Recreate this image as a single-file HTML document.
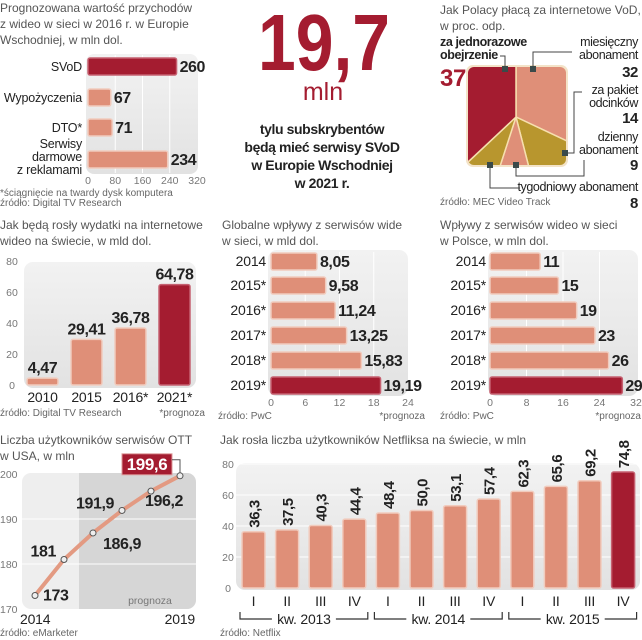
<!DOCTYPE html>
<html><head><meta charset="utf-8">
<style>
body{margin:0;background:#fff;width:642px;height:640px;overflow:hidden}
svg{display:block}
.t{font-family:"Liberation Sans",sans-serif;font-size:12px;fill:#555}
.s{font-family:"Liberation Sans",sans-serif;font-size:10px;fill:#666}
.b{font-family:"Liberation Sans",sans-serif;font-weight:bold;fill:#222;letter-spacing:-0.4px}
.l{font-family:"Liberation Sans",sans-serif;fill:#222;letter-spacing:-0.2px}
.k{font-family:"Liberation Sans",sans-serif;font-size:10.5px;fill:#777}
</style></head><body>
<svg id="root" width="642" height="640" viewBox="0 0 642 640">
<defs>
<linearGradient id="pg" x1="0" y1="0" x2="0" y2="1"><stop offset="0" stop-color="#f2f2f2"/><stop offset="1" stop-color="#e2e2e2"/></linearGradient>
<clipPath id="pieclip"><rect x="468" y="67" width="98" height="98" rx="6"/></clipPath>
</defs>

<g>
<text class="t" x="0" y="12">Prognozowana wartość przychodów</text>
<text class="t" x="0" y="28">z wideo w sieci w 2016 r.  w Europie</text>
<text class="t" x="0" y="44">Wschodniej, w mln dol.</text>
<rect x="86" y="54" width="112" height="120" rx="8" fill="url(#pg)"/>
<g id="p1"></g>
<text class="s" x="0" y="196">*ściągnięcie na twardy dysk komputera</text>
<text class="s" x="0" y="206">źródło: Digital TV Research</text>
</g>

<g>
<text x="258" y="70" textLength="132" lengthAdjust="spacingAndGlyphs" font-family="Liberation Sans,sans-serif" font-weight="bold" font-size="80" fill="#a41c30">19,7</text>
<text x="323" y="100" text-anchor="middle" font-family="Liberation Sans,sans-serif" font-size="25" fill="#a41c30">mln</text>
<g class="b" font-size="14" text-anchor="middle">
<text x="322" y="134">tylu subskrybentów</text>
<text x="322" y="152">będą mieć serwisy SVoD</text>
<text x="322" y="170">w Europie Wschodniej</text>
<text x="322" y="188">w 2021 r.</text>
</g>
</g>

<g>
<text class="t" x="440" y="14" font-size="11.5">Jak Polacy płacą za internetowe VoD,</text>
<text class="t" x="440" y="30" font-size="11.5">w proc. odp.</text>
<rect x="466" y="65" width="102" height="102" rx="7" fill="#f3e3c8"/>
<g id="pie" clip-path="url(#pieclip)"></g>
<g class="b" font-size="12.5">
<text x="440" y="46">za jednorazowe</text>
<text x="440" y="59">obejrzenie</text>
<text x="440" y="86" font-size="24" fill="#a41c30" style="fill:#a41c30">37</text>
<g text-anchor="end" font-weight="normal">
<text x="638" y="46">miesięczny</text><text x="638" y="59">abonament</text>
<text x="638" y="94">za pakiet</text><text x="638" y="107">odcinków</text>
<text x="638" y="141">dzienny</text><text x="638" y="154">abonament</text>
<text x="638" y="191">tygodniowy abonament</text>
</g>
<g text-anchor="end" font-size="15"><text x="638" y="77">32</text><text x="638" y="123">14</text><text x="638" y="170">9</text><text x="638" y="208">8</text></g>
</g>
<g fill="none" stroke="#444" stroke-width="1">
<polyline points="500,56 505,56 505,69"/><polyline points="533,69 533,52 572,52"/>
<polyline points="565,153 574,153 574,92 582,92"/><polyline points="516,165 516,176 584,176 584,160"/>
<polyline points="490,165 490,188 520,188"/>
</g>
<g fill="#3a4a4a">
<rect x="502" y="66" width="6" height="6"/><rect x="530" y="66" width="6" height="6"/>
<rect x="562" y="150" width="6" height="6"/><rect x="513" y="162" width="6" height="6"/><rect x="487" y="162" width="6" height="6"/>
</g>
<text class="s" x="440" y="205">źródło: MEC Video Track</text>
</g>

<g>
<text class="t" x="0" y="229">Jak będą rosły wydatki na internetowe</text>
<text class="t" x="0" y="245">wideo na świecie, w mld dol.</text>
<rect x="24" y="262" width="172" height="126" rx="9" fill="url(#pg)"/>
<g id="p2"></g>
<text class="s" x="0" y="416">źródło: Digital TV Research</text>
<text class="s" x="205" y="416" text-anchor="end">*prognoza</text>
</g>

<g>
<text class="t" x="222" y="229">Globalne wpływy z serwisów wide</text>
<text class="t" x="222" y="245">w sieci, w mld dol.</text>
<rect x="268" y="250" width="140" height="146" rx="9" fill="url(#pg)"/>
<g id="p3"></g>
<text class="s" x="218" y="419">źródło: PwC</text>
<text class="s" x="425" y="419" text-anchor="end">*prognoza</text>
</g>

<g>
<text class="t" x="440" y="229">Wpływy z serwisów wideo w sieci</text>
<text class="t" x="440" y="245">w Polsce, w mln dol.</text>
<rect x="488" y="250" width="150" height="146" rx="9" fill="url(#pg)"/>
<g id="p4"></g>
<text class="s" x="440" y="419">źródło: PwC</text>
<text class="s" x="641" y="419" text-anchor="end">*prognoza</text>
</g>

<g>
<text class="t" x="0" y="444">Liczba użytkowników serwisów OTT</text>
<text class="t" x="0" y="460">w USA, w mln</text>
<rect x="22" y="473" width="174" height="136" rx="9" fill="#eeeeee"/>
<path d="M79 473 H187 A9 9 0 0 1 196 482 V600 A9 9 0 0 1 187 609 H79 Z" fill="#d6d6d6"/>
<text class="k" x="150" y="604" text-anchor="middle" font-size="12">prognoza</text>
<g id="p5"></g>
<text class="s" x="0" y="636">źródło: eMarketer</text>
</g>

<g>
<text class="t" x="220" y="444">Jak rosła liczba użytkowników Netfliksa na świecie, w mln</text>
<rect x="236" y="463" width="404" height="127" rx="9" fill="url(#pg)"/>
<g id="p6"></g>
<text class="s" x="220" y="636">źródło: Netflix</text>
</g>
</svg>

<script>
const NS="http://www.w3.org/2000/svg";
const DARK="#a41c30",SAL="#df8f78",GOLD="#b8962e",EDGE="#f1cbbd";

const p1Cats=["SVoD","Wypożyczenia","DTO*","Serwisy|darmowe|z reklamami"];
const p1Vals=[260,67,71,234];
const p1Ticks=[0,80,160,240,320];

const pieCats=["miesięczny abonament","za pakiet odcinków","dzienny abonament","tygodniowy abonament","za jednorazowe obejrzenie"];
const pieVals=[32,14,9,8,37];

const p2Cats=["2010","2015","2016*","2021*"];
const p2Vals=[4.47,29.41,36.78,64.78];
const p2Labels=["4,47","29,41","36,78","64,78"];
const p2Ticks=[0,20,40,60,80];

const p3Cats=["2014","2015*","2016*","2017*","2018*","2019*"];
const p3Vals=[8.05,9.58,11.24,13.25,15.83,19.19];
const p3Labels=["8,05","9,58","11,24","13,25","15,83","19,19"];
const p3Ticks=[0,6,12,18,24];

const p4Cats=["2014","2015*","2016*","2017*","2018*","2019*"];
const p4Vals=[11,15,19,23,26,29];
const p4Ticks=[0,8,16,24,32];

const p5Years=[2014,2015,2016,2017,2018,2019];
const p5Vals=[173,181,186.9,191.9,196.2,199.6];
const p5Labels=["173","181","186,9","191,9","196,2","199,6"];
const p5Ticks=[170,180,190,200];

const p6Cats=["I","II","III","IV","I","II","III","IV","I","II","III","IV"];
const p6Vals=[36.3,37.5,40.3,44.4,48.4,50.0,53.1,57.4,62.3,65.6,69.2,74.8];
const p6Labels=["36,3","37,5","40,3","44,4","48,4","50,0","53,1","57,4","62,3","65,6","69,2","74,8"];
const p6Groups=["kw. 2013","kw. 2014","kw. 2015"];
const p6Ticks=[0,20,40,60,80];

function mk(parent,tag,attrs,txt){const e=document.createElementNS(NS,tag);for(const k in attrs)e.setAttribute(k,attrs[k]);if(txt!==undefined)e.textContent=txt;parent.appendChild(e);return e;}

(function(){
 const g=document.getElementById("p1");
 const x=v=>88+v*(109/320);
 const rows=[66,97,127,159];
 p1Ticks.forEach(t=>{
  if(t>0&&t<320){const ln=mk(g,"line",{x1:x(t),x2:x(t),y1:55,y2:173,stroke:"#fff","stroke-width":1});
  }
  const tx=mk(g,"text",{x:x(t),y:184,"text-anchor":"middle",class:"k","font-size":"10"},t);
  
 });
 p1Cats.forEach((c,i)=>{
  const r=mk(g,"rect",{x:x(0),y:rows[i]-8,width:x(p1Vals[i])-x(0),height:17,rx:2,fill:i==0?DARK:SAL,stroke:i==0?"#c56070":EDGE,"stroke-width":1.5});
  
  const v=mk(g,"text",{x:x(p1Vals[i])+3,y:rows[i]+6,class:"b","font-size":"16"},p1Vals[i]);
  
  const parts=c.split("|");
  parts.forEach((p,j)=>{const t=mk(g,"text",{x:82,y:rows[i]+5-(parts.length-1-j)*13+(parts.length>1?10:0),"text-anchor":"end",class:"l","font-size":"12.5"},p);
  });
 });
})();

(function(){
 const g=document.getElementById("pie");
 const cx=516,cy=117,R=120;
 const cols=[SAL,GOLD,SAL,GOLD,DARK];
 const total=pieVals.reduce((a,b)=>a+b,0);
 let a0=0;
 pieVals.forEach((v,i)=>{
  const a1=a0+v/total*2*Math.PI;
  const p=(a)=>[cx+R*Math.sin(a),cy-R*Math.cos(a)];
  const [x0,y0]=p(a0),[x1,y1]=p(a1);
  const path=mk(g,"path",{d:`M${cx},${cy} L${x0},${y0} A${R},${R} 0 ${a1-a0>Math.PI?1:0} 1 ${x1},${y1} Z`,fill:cols[i],stroke:"#f6dfae","stroke-width":1.5});
  
  a0=a1;
 });
})();

(function(){
 const g=document.getElementById("p2");
 const y=v=>385-v*(124/80);
 const xs=[27,71,115,159],w=31;
 p2Ticks.forEach(t=>{const tx=mk(g,"text",{x:12,y:y(t)+4,"text-anchor":"middle",class:"k","font-size":"10"},t);
  });
 p2Cats.forEach((c,i)=>{
  const r=mk(g,"rect",{x:xs[i],y:y(p2Vals[i]),width:w,height:y(0)-y(p2Vals[i]),rx:2,fill:i==3?DARK:SAL,stroke:i==3?"#c56070":EDGE,"stroke-width":1.5});
  
  const v=mk(g,"text",{x:xs[i]+w/2,y:y(p2Vals[i])-5,"text-anchor":"middle",class:"b","font-size":"16"},p2Labels[i]);
  
  const l=mk(g,"text",{x:xs[i]+w/2,y:402,"text-anchor":"middle",class:"l","font-size":"14"},c);
  
 });
})();

function hbars(id,cats,vals,labels,ticks,x0,x1,lblX,name){
 const g=document.getElementById(id);
 const max=ticks[ticks.length-1];
 const x=v=>x0+v*((x1-x0)/max);
 const rows=[261,285,310,335,360,385];
 ticks.forEach(t=>{
  if(t>0&&t<max){const ln=mk(g,"line",{x1:x(t),x2:x(t),y1:252,y2:395,stroke:"#fff","stroke-width":1});
  }
  const tx=mk(g,"text",{x:x(t),y:406,"text-anchor":"middle",class:"k","font-size":"10"},t);
  
 });
 cats.forEach((c,i)=>{
  const last=i==cats.length-1;
  const r=mk(g,"rect",{x:x(0),y:rows[i]-8,width:x(vals[i])-x(0),height:17,rx:2,fill:last?DARK:SAL,stroke:last?"#c56070":EDGE,"stroke-width":1.5});
  
  const v=mk(g,"text",{x:x(vals[i])+3,y:rows[i]+6,class:"b","font-size":"16"},labels[i]);
  
  const l=mk(g,"text",{x:lblX,y:rows[i]+5,"text-anchor":"end",class:"l","font-size":"14"},c);
  
 });
}
hbars("p3",p3Cats,p3Vals,p3Labels,p3Ticks,271,408,266,"global");
hbars("p4",p4Cats,p4Vals,p4Vals.map(String),p4Ticks,490,636,486,"poland");

(function(){
 const g=document.getElementById("p5");
 const y=v=>609-(v-170)*4.5;
 const x=yr=>35+(yr-2014)*29;
 p5Ticks.forEach(t=>{
  if(t>170&&t<200){const ln=mk(g,"line",{x1:22,x2:196,y1:y(t),y2:y(t),stroke:"#fff","stroke-width":1});
  }
  const tx=mk(g,"text",{x:0,y:y(t)+4,class:"k","font-size":"10"},t);
  
 });
 let d="";
 p5Vals.forEach((v,i)=>{d+=(i?"L":"M")+x(p5Years[i])+","+y(v)+" ";});
 const pl=mk(g,"path",{d:d,fill:"none",stroke:"#e39a82","stroke-width":4,"stroke-linecap":"round"});
 
 const offs=[[8,5,"start"],[-8,-3,"end"],[10,16,"start"],[-8,-2,"end"],[-6,15,"start"],[0,0,"none"]];
 p5Vals.forEach((v,i)=>{
  const c=mk(g,"circle",{cx:x(p5Years[i]),cy:y(v),r:3,fill:"#eee",stroke:"#555","stroke-width":1});
  
  if(i<5){const o=offs[i];
   const t=mk(g,"text",{x:x(p5Years[i])+o[0],y:y(v)+o[1],"text-anchor":o[2],class:"b","font-size":"16"},p5Labels[i]);
   }
 });
 const lx=x(p5Years[5]),ly=y(p5Vals[5]);
 const box=mk(g,"rect",{x:lx-58,y:ly-22,width:50,height:21,fill:DARK,stroke:"#d99","stroke-width":1});
 
 const bt=mk(g,"text",{x:lx-33,y:ly-6,"text-anchor":"middle",class:"b","font-size":"17",style:"fill:#fff"},p5Labels[5]);
 
 const ld=mk(g,"polyline",{points:`${lx-8},${ly-16} ${lx},${ly-16} ${lx},${ly-3}`,fill:"none",stroke:"#555","stroke-width":1});
 
 [[p5Years[0],20,"start"],[p5Years[5],195,"end"]].forEach(a=>{
  const t=mk(g,"text",{x:a[1],y:624,"text-anchor":a[2],class:"l","font-size":"14"},a[0]);
  
 });
})();

(function(){
 const g=document.getElementById("p6");
 const y=v=>588-v*(124/80);
 const x=i=>242+i*33.6,w=23;
 p6Ticks.forEach(t=>{
  if(t>0){const ln=mk(g,"line",{x1:236,x2:640,y1:y(t),y2:y(t),stroke:"#fff","stroke-width":1});
  }
  const tx=mk(g,"text",{x:228,y:y(t)+4,"text-anchor":"middle",class:"k","font-size":"10"},t);
  
 });
 p6Vals.forEach((v,i)=>{
  const last=i==p6Vals.length-1;
  const r=mk(g,"rect",{x:x(i),y:y(v),width:w,height:y(0)-y(v),rx:2,fill:last?DARK:SAL,stroke:last?"#c56070":EDGE,"stroke-width":1.5});
  
  const cx=x(i)+w/2+6,cy=y(v)-4;
  const t=mk(g,"text",{x:cx,y:cy,transform:`rotate(-90 ${cx} ${cy})`,class:"b","font-size":"15"},p6Labels[i]);
  
  const q=mk(g,"text",{x:x(i)+w/2,y:606,"text-anchor":"middle",class:"l","font-size":"14"},p6Cats[i]);
  
 });
 p6Groups.forEach((gr,k)=>{
  const a=x(k*4)-2,b=x(k*4+3)+w+2,m=(a+b)/2;
  const br=mk(g,"path",{d:`M${a},612 V619 H${m-32} M${m+32},619 H${b} V612`,fill:"none",stroke:"#333","stroke-width":1.2});
  
  const t=mk(g,"text",{x:m,y:624,"text-anchor":"middle",class:"l","font-size":"14"},gr);
  
 });
})();
</script>
</body></html>
